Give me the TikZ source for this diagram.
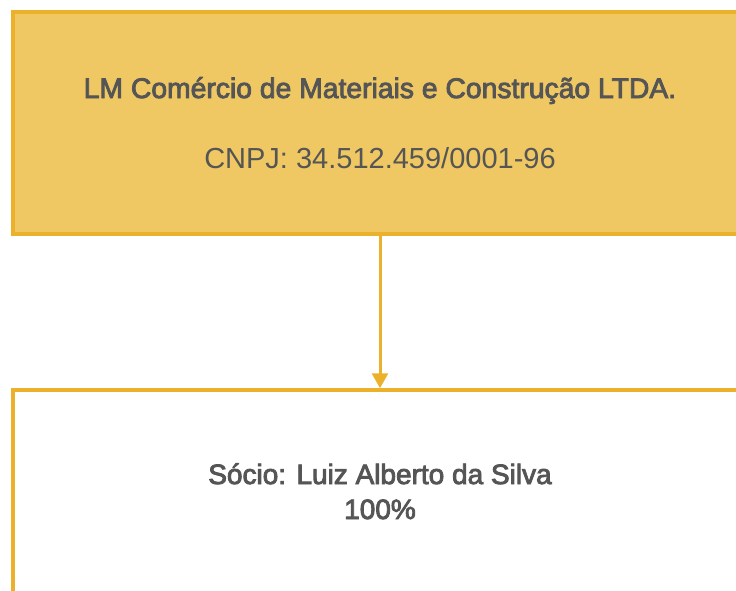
\documentclass[tikz,border=0pt]{standalone}
\usepackage{fontspec}
\setmainfont{Liberation Sans}
\newfontfamily\medfont[FakeBold=3]{Liberation Sans}
\usetikzlibrary{arrows.meta}
\definecolor{boxfill}{HTML}{EFC864}
\definecolor{boxline}{HTML}{ECB12A}
\definecolor{txt}{HTML}{555555}
\tikzset{
  orgbox/.style={draw=boxline, line width=3.5pt, rectangle, minimum width=734pt, inner sep=0pt},
  lbl/.style={text=txt, anchor=base, inner sep=0pt, font=\fontsize{29}{33}\selectfont},
  medlbl/.style={lbl, font=\medfont\fontsize{28.3}{33}\selectfont},
  conn/.style={draw=boxline, line width=3pt, -{Triangle[length=15pt,width=16pt]}}
}
\begin{document}
\begin{tikzpicture}[x=1pt,y=-1pt]
\useasboundingbox (0,0) rectangle (736,590);
\clip (0,0) rectangle (736,590);
\node[orgbox, fill=boxfill, minimum height=222pt] (top) at (380,123) {};
\node[orgbox, fill=white, minimum height=203pt] (bot) at (380,491.5) {};
\node[medlbl] (title) at (380,98) {LM Comércio de Materiais e Construção LTDA.};
\node[lbl] (cnpj) at (380,168) {CNPJ: 34.512.459/0001-96};
\node[medlbl, font=\medfont\fontsize{28}{33}\selectfont] (socio) at (380,484) {Sócio: Luiz Alberto da Silva};
\node[medlbl, font=\medfont\fontsize{28}{33}\selectfont] (pct) at (380,519) {100\%};
\draw[conn] (top.south) -- (bot.north);
\end{tikzpicture}
\end{document}
